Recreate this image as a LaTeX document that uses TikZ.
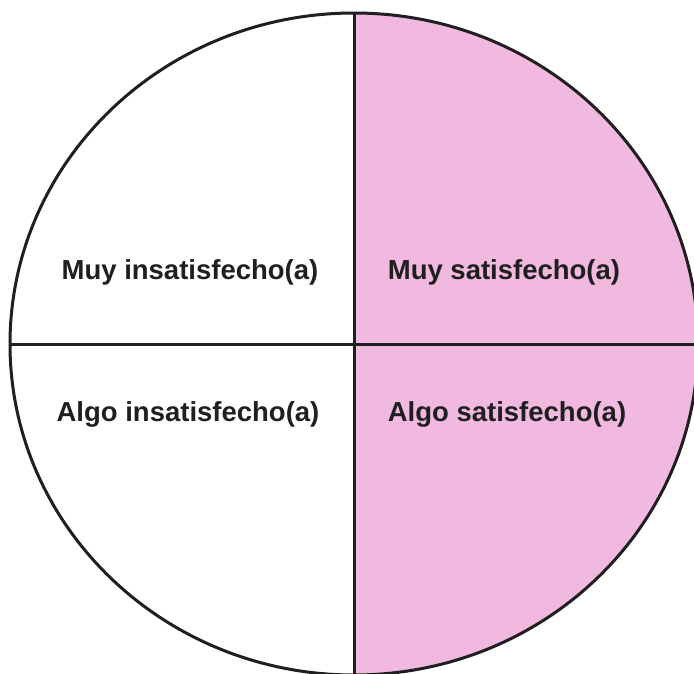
\documentclass[tikz,border=0pt]{standalone}
\usepackage{fontspec}
\setmainfont{Liberation Sans}
\definecolor{pinkq}{RGB}{241,184,224}
\tikzset{lbl/.style={font=\bfseries\fontsize{27.5}{32}\selectfont, text=black!88, inner sep=0pt},
 edge/.style={line width=3pt, draw=black!88}}
\begin{document}
\begin{tikzpicture}[x=1pt,y=-1pt]
\useasboundingbox (0,0) rectangle (694,673);
\coordinate (c) at (354,344);
\begin{scope}
\clip (c) ellipse [x radius=344, y radius=331];
\fill[pinkq] (354,0) rectangle (720,700);
\end{scope}
\draw[edge] (c) ellipse [x radius=344, y radius=331];
\coordinate (t) at (354,13);
\coordinate (b) at (354,680);
\coordinate (l) at (10,344);
\coordinate (r) at (700,344);
\draw[edge] (t) -- (b);
\draw[edge] (l) -- (r);
\node[lbl] (mi) at (190,272) {Muy insatisfecho(a)};
\node[lbl] (ms) at (504,272) {Muy satisfecho(a)};
\node[lbl] (ai) at (188,414) {Algo insatisfecho(a)};
\node[lbl] (as) at (507,414) {Algo satisfecho(a)};
\end{tikzpicture}
\end{document}
